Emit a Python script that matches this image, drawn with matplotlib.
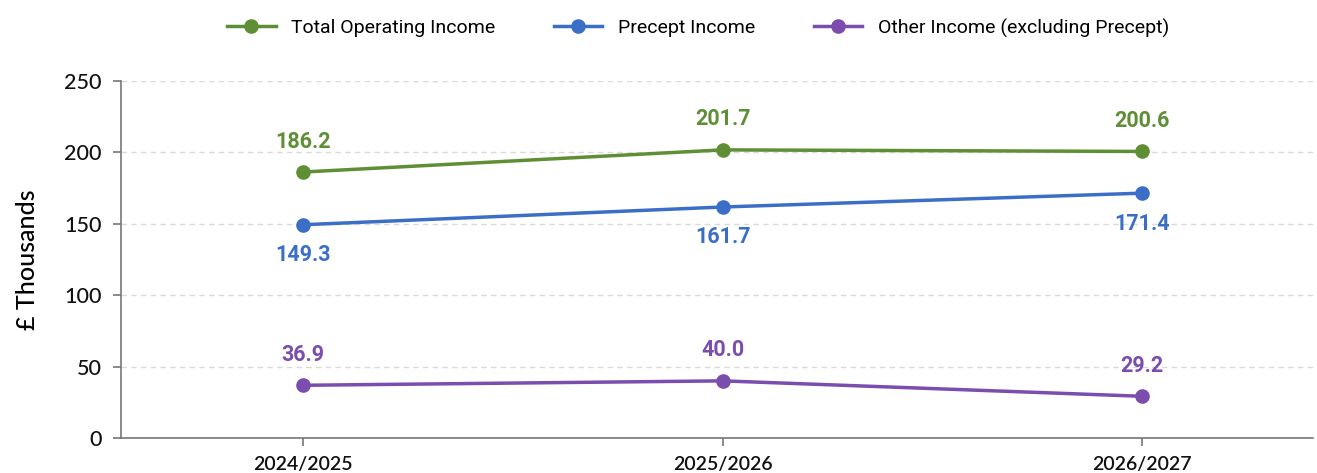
import matplotlib
matplotlib.use("Agg")
import matplotlib.pyplot as plt

# data
years = ["2024/2025", "2025/2026", "2026/2027"]
total_income = [186.2, 201.7, 200.6]
precept_income = [149.3, 161.7, 171.4]
other_income = [36.9, 40.0, 29.2]

series = [
    ("Total Operating Income", total_income, "#5e8f35", 1),
    ("Precept Income", precept_income, "#3b6fc7", -1),
    ("Other Income (excluding Precept)", other_income, "#7a4dae", 1),
]

fig = plt.figure(figsize=(13.17, 4.73), dpi=100)
ax = fig.add_axes([0.092, 0.074, 0.905, 0.755])

x = list(range(len(years)))
handles = []
for name, vals, color, side in series:
    h, = ax.plot(x, vals, color=color, lw=2.5, marker="o", markersize=9.5,
                 label=name, zorder=3)
    handles.append(h)
    for xi, v in zip(x, vals):
        ax.annotate(f"{v:.1f}", (xi, v), xytext=(0, 14 * side),
                    textcoords="offset points", ha="center",
                    va="bottom" if side > 0 else "top",
                    color=color, fontsize=15.5, fontweight="bold",
                    family="Roboto")

ax.set_xlim(-0.434, 2.408)
ax.set_ylim(0, 250)
ax.set_yticks([0, 50, 100, 150, 200, 250])
ax.set_xticks(x)
ax.set_xticklabels(years)
for lbl in ax.get_xticklabels():
    lbl.set_family("Lato")
    lbl.set_fontsize(14)
    lbl.set_fontweight("semibold")
    lbl.set_color("#111111")
for lbl in ax.get_yticklabels():
    lbl.set_family("Lato")
    lbl.set_fontsize(15.5)
    lbl.set_fontweight("medium")
    lbl.set_color("#111111")

ax.yaxis.grid(True, linestyle=(0, (4, 3)), color="#dadada", lw=1)
ax.set_axisbelow(True)
for s in ["top", "right"]:
    ax.spines[s].set_visible(False)
for s in ["left", "bottom"]:
    ax.spines[s].set_color("#777777")
    ax.spines[s].set_linewidth(1.2)
ax.tick_params(axis="both", color="#777777", length=6, width=1.2)
ax.tick_params(axis="y", pad=8)
ax.tick_params(axis="x", pad=7)

ax.set_ylabel("£ Thousands", fontsize=18, family="Lato", fontweight="medium",
              labelpad=18)

fig.legend(handles=handles, loc="center", bbox_to_anchor=(0.53, 0.941),
           ncol=3, frameon=False, prop={"family": "Roboto", "size": 14},
           handlelength=2.5, columnspacing=3.0, handletextpad=0.8)

fig.savefig("out.png", dpi=100)
